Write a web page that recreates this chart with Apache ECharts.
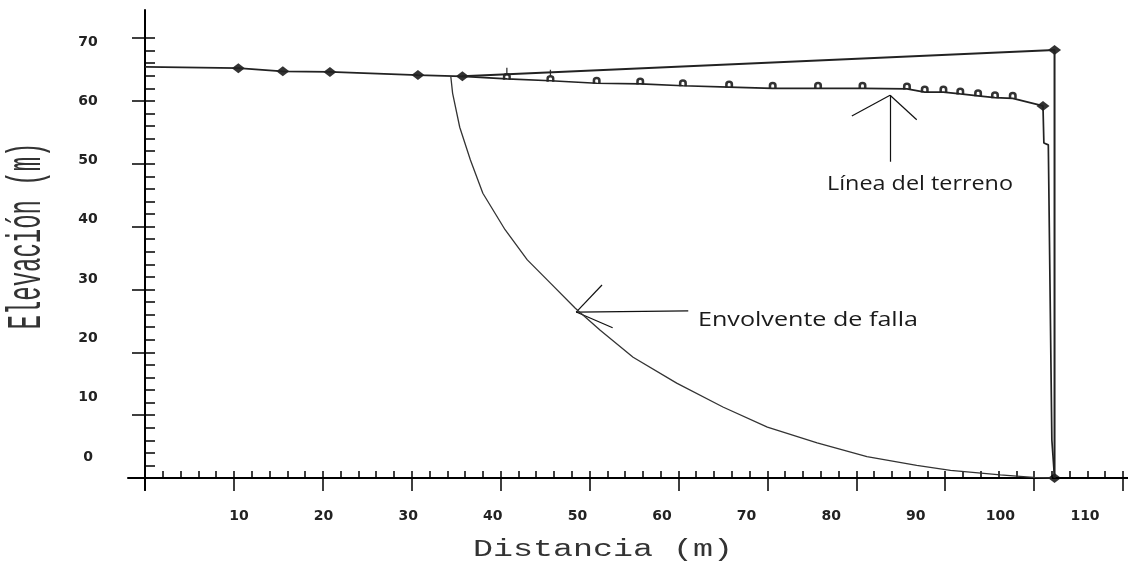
<!DOCTYPE html>
<html><head><meta charset="utf-8">
<script src="https://cdn.jsdelivr.net/npm/echarts@6/dist/echarts.min.js"></script>
<style>html,body{margin:0;padding:0;background:#fff}#c{width:1128px;height:567px}</style>
</head><body><div id="c"></div>
<script>
// ---------- data (distance m, elevation m) ----------
const xTickValues = [10, 20, 30, 40, 50, 60, 70, 80, 90, 100, 110];
const yTickValues = [0, 10, 20, 30, 40, 50, 60, 70];
const terrainStart = [[0, 65.4]];
const terrainDiamond = [[10.5, 65.2], [15.5, 64.7], [20.8, 64.6], [30.7, 64.1], [35.7, 63.9]];
const terrainCross = [[40.7, 63.5], [45.6, 63.2]];
const terrainArc = [[50.8, 62.8], [55.7, 62.7], [60.5, 62.4], [65.7, 62.2], [70.6, 62.0], [75.7, 62.0], [80.7, 62.0],
  [85.7, 61.9], [87.7, 61.4], [89.8, 61.4], [91.7, 61.1], [93.7, 60.8], [95.6, 60.5], [97.6, 60.4]];
const terrainEnd = [[101.0, 59.2]];
const terrainDrop = [[101.1, 53.3], [101.6, 53.0], [102.0, 6.0], [102.3, 0]];
const upperLine = [[35.7, 63.9], [102.3, 68.1], [102.3, 0]];
const upperDiamond = [[102.3, 68.1], [102.3, 0]];
const envelope = [[34.4, 63.8], [34.6, 61.2], [35.4, 55.8], [36.6, 50.6], [38.0, 45.3], [40.5, 39.5], [43.0, 34.7],
  [45.6, 31.0], [48.4, 27.0], [51.2, 23.5], [54.9, 19.2], [59.8, 15.1], [65.0, 11.3], [70.0, 8.1], [75.6, 5.6],
  [81.2, 3.4], [86.8, 2.0], [90.6, 1.2], [96.2, 0.5], [99.9, 0.1], [102.0, 0]];
const arrowTerreno = { tip: [83.8, 60.9], tail: [83.8, 50.3], barbs: [[79.5, 57.6], [86.8, 57.0]] };
const arrowEnvolvente = { tip: [48.5, 26.4], tail: [61.1, 26.6], barbs: [[51.4, 30.7], [52.6, 23.9]] };
const xTitle = 'Distancia (m)';
const yTitle = 'Elevación (m)';
const labelTerreno = 'Línea del terreno';
const labelEnvolvente = 'Envolvente de falla';

// ---------- helpers ----------
const mctx = document.createElement('canvas').getContext('2d');
function fit(text, font, target) { mctx.font = font; return target / mctx.measureText(text).width; }
const tickLine = { color: '#000', width: 1.5 };
const noSplit = { show: false };
function arrowSegs(a) {
  return [{ coords: [a.tail, a.tip] }, { coords: [a.barbs[0], a.tip] }, { coords: [a.barbs[1], a.tip] }];
}
const fontXT = '23px "Liberation Mono"';
const fontYT = '49px "Liberation Mono"';
const fontAnn = '20px "Open Sans"';
const archPath = 'path://M0,10 L0,5 Q0,0 5,0 Q10,0 10,5 L10,10 L6.8,10 L6.8,5.5 Q6.8,3.6 5,3.6 Q3.2,3.6 3.2,5.5 L3.2,10 Z';
const crossPath = 'path://M4.2,0 L5.8,0 L5.8,6 Q10,6.5 10,10 L10,14 L7,14 L7,10.5 Q7,9 5,9 Q3,9 3,10.5 L3,14 L0,14 L0,10 Q0,6.5 4.2,6 Z';

const chart = echarts.init(document.getElementById('c'), null, { renderer: 'canvas' });
chart.setOption({
  animation: false,
  backgroundColor: '#fff',
  grid: [
    { left: 145, right: 5, top: 38, bottom: 89, outerBoundsMode: 'none' },
    { left: 128, right: 0, top: 38, bottom: 89, outerBoundsMode: 'none' },
    { left: 145, right: 5, top: 10, bottom: 77, outerBoundsMode: 'none' },
    { left: 154.4, right: 43, top: 38, bottom: 89, outerBoundsMode: 'none' },
    { left: 145, right: 5, top: 42, bottom: 110, outerBoundsMode: 'none' }
  ],
  xAxis: [
    { type: 'value', gridIndex: 0, position: 'bottom', min: 0, max: 110, interval: 10, axisLine: { show: false },
      splitLine: noSplit, axisLabel: { show: false },
      axisTick: { show: true, inside: true, length: 7, lineStyle: tickLine },
      minorTick: { show: true, splitNumber: 5, length: 7, lineStyle: tickLine } },
    { type: 'value', gridIndex: 0, position: 'bottom', min: 0, max: 110, interval: 10, axisLine: { show: false },
      splitLine: noSplit, axisLabel: { show: false },
      axisTick: { show: true, inside: false, length: 13, lineStyle: tickLine } },
    { type: 'value', gridIndex: 1, position: 'bottom', min: 0, max: 1, axisLine: { show: true, lineStyle: { color: '#000', width: 2 } },
      axisTick: { show: false }, axisLabel: { show: false }, splitLine: noSplit },
    { type: 'value', gridIndex: 2, show: false, min: 0, max: 1 },
    { type: 'value', gridIndex: 3, position: 'bottom', min: 0, max: 110, interval: 10, axisLine: { show: false },
      axisTick: { show: false }, splitLine: noSplit,
      axisLabel: { show: true, margin: 31, color: '#222', fontFamily: 'DejaVu Sans', fontWeight: 'bold', fontSize: 14,
        formatter: v => xTickValues.includes(v) ? String(v) : '' } },
    { type: 'value', gridIndex: 4, show: false, min: 0, max: 1 }
  ],
  yAxis: [
    { type: 'value', gridIndex: 0, position: 'left', min: 0, max: 70, interval: 10, axisLine: { show: false },
      splitLine: noSplit, axisLabel: { show: false },
      axisTick: { show: true, inside: true, length: 10, lineStyle: tickLine },
      minorTick: { show: true, splitNumber: 5, length: 10, lineStyle: tickLine } },
    { type: 'value', gridIndex: 0, position: 'left', min: 0, max: 70, interval: 10, axisLine: { show: false },
      splitLine: noSplit, axisLabel: { show: false },
      axisTick: { show: true, inside: false, length: 13, lineStyle: tickLine } },
    { type: 'value', gridIndex: 1, show: false, min: 0, max: 1 },
    { type: 'value', gridIndex: 2, position: 'left', min: 0, max: 1, axisLine: { show: true, lineStyle: { color: '#000', width: 2 } },
      axisTick: { show: false }, axisLabel: { show: false }, splitLine: noSplit },
    { type: 'value', gridIndex: 3, show: false, min: 0, max: 1 },
    { type: 'value', gridIndex: 4, position: 'left', min: 0, max: 70, interval: 10, axisLine: { show: false },
      axisTick: { show: false }, splitLine: noSplit,
      axisLabel: { show: true, margin: 57, align: 'center', color: '#222', fontFamily: 'DejaVu Sans', fontWeight: 'bold', fontSize: 14,
        formatter: v => yTickValues.includes(v) ? String(v) : '' } }
  ],
  series: [
    { type: 'line', name: 'Envolvente', xAxisIndex: 0, yAxisIndex: 0, data: envelope, showSymbol: false, clip: false,
      lineStyle: { color: '#333', width: 1.3 } },
    { type: 'line', name: 'Terreno', xAxisIndex: 0, yAxisIndex: 0, clip: false,
      data: [...terrainStart, ...terrainDiamond, ...terrainCross, ...terrainArc, ...terrainEnd, ...terrainDrop],
      showSymbol: false, lineStyle: { color: '#222', width: 1.7 } },
    { type: 'line', name: 'Superior', xAxisIndex: 0, yAxisIndex: 0, clip: false, data: upperLine, showSymbol: false,
      lineStyle: { color: '#222', width: 2 } },
    { type: 'scatter', xAxisIndex: 0, yAxisIndex: 0, clip: false, symbol: 'diamond', symbolSize: [13, 10],
      itemStyle: { color: '#000' }, data: [...terrainDiamond, ...terrainEnd, ...upperDiamond] },
    { type: 'scatter', xAxisIndex: 0, yAxisIndex: 0, clip: false, symbol: archPath, symbolSize: [8, 7], symbolOffset: [0, -3],
      itemStyle: { color: '#000' }, data: terrainArc },
    { type: 'scatter', xAxisIndex: 0, yAxisIndex: 0, clip: false, symbol: crossPath, symbolSize: [8, 12], symbolOffset: [0, -5],
      itemStyle: { color: '#000' }, data: terrainCross },
    { type: 'lines', coordinateSystem: 'cartesian2d', xAxisIndex: 0, yAxisIndex: 0, polyline: false,
      lineStyle: { color: '#111', width: 1.2, opacity: 1 }, data: [...arrowSegs(arrowTerreno), ...arrowSegs(arrowEnvolvente)] }
  ],
  graphic: [
    { type: 'text', x: 603, y: 550, scaleX: fit(xTitle, fontXT, 260), scaleY: 1,
      style: { text: xTitle, font: fontXT, fill: '#333', align: 'center', verticalAlign: 'middle', textAlign: 'center', textVerticalAlign: 'middle' } },
    { type: 'text', x: 27, y: 236, rotation: Math.PI / 2, scaleX: fit(yTitle, fontYT, 187), scaleY: 1,
      style: { text: yTitle, font: fontYT, fill: '#333', align: 'center', verticalAlign: 'middle', textAlign: 'center', textVerticalAlign: 'middle' } },
    { type: 'text', x: 920, y: 184, scaleX: fit(labelTerreno, fontAnn, 186), scaleY: 1,
      style: { text: labelTerreno, font: fontAnn, fill: '#1a1a1a', align: 'center', verticalAlign: 'middle', textAlign: 'center', textVerticalAlign: 'middle' } },
    { type: 'text', x: 808, y: 320, scaleX: fit(labelEnvolvente, fontAnn, 220), scaleY: 1,
      style: { text: labelEnvolvente, font: fontAnn, fill: '#1a1a1a', align: 'center', verticalAlign: 'middle', textAlign: 'center', textVerticalAlign: 'middle' } }
  ]
});
</script>
</body></html>
